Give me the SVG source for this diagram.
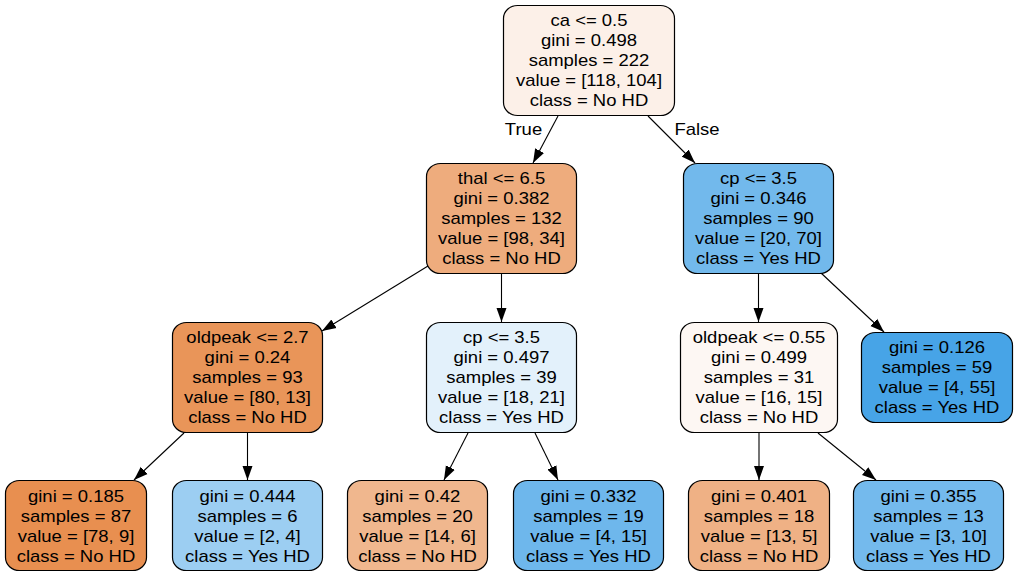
<svg xmlns="http://www.w3.org/2000/svg" width="1017" height="577" viewBox="0 0 1017 577">
<style>
.n rect{stroke:#000;stroke-width:1.2}
text{font-family:"Liberation Sans",Arial,sans-serif;font-size:15.8px;fill:#000;text-anchor:middle}
.e line{stroke:#000;stroke-width:1.1;marker-end:url(#ah)}
</style>
<defs>
<marker id="ah" markerUnits="userSpaceOnUse" markerWidth="14" markerHeight="11" refX="14" refY="5.5" orient="auto"><path d="M0,0.5 L14,5.5 L0,10.5 z" fill="#000"/></marker>
</defs>
<rect width="1017" height="577" fill="#fff"/>
<g id="edges" class="e">
<line x1="558" y1="116" x2="533" y2="163"/>
<line x1="648" y1="116" x2="695" y2="163"/>
<line x1="428" y1="266" x2="322" y2="331"/>
<line x1="501.5" y1="274" x2="501.5" y2="322"/>
<line x1="758.5" y1="274" x2="758.5" y2="322"/>
<line x1="821" y1="273" x2="884" y2="332"/>
<line x1="184" y1="433" x2="134" y2="480"/>
<line x1="247.5" y1="433" x2="247.5" y2="480"/>
<line x1="468" y1="433" x2="444" y2="480"/>
<line x1="535" y1="433" x2="558" y2="480"/>
<line x1="759" y1="433" x2="759" y2="480"/>
<line x1="818" y1="433" x2="876" y2="480"/>
<text transform="translate(523.5,135) scale(1.17,1)">True</text>
<text transform="translate(697,135) scale(1.17,1)">False</text>
</g>
<g id="root" class="n">
<rect x="503.5" y="5.5" width="171" height="110" rx="14" ry="13" fill="#fcf0e8"/>
<text transform="translate(589,25.5) scale(1.17,1)">ca &lt;= 0.5</text>
<text transform="translate(589,45.5) scale(1.17,1)">gini = 0.498</text>
<text transform="translate(589,65.5) scale(1.17,1)">samples = 222</text>
<text transform="translate(589,85.5) scale(1.17,1)">value = [118, 104]</text>
<text transform="translate(589,105.5) scale(1.17,1)">class = No HD</text>
</g>
<g id="thal" class="n">
<rect x="426.5" y="163.5" width="150" height="110" rx="14" ry="13" fill="#eeac7d"/>
<text transform="translate(501.5,183.5) scale(1.17,1)">thal &lt;= 6.5</text>
<text transform="translate(501.5,203.5) scale(1.17,1)">gini = 0.382</text>
<text transform="translate(501.5,223.5) scale(1.17,1)">samples = 132</text>
<text transform="translate(501.5,243.5) scale(1.17,1)">value = [98, 34]</text>
<text transform="translate(501.5,263.5) scale(1.17,1)">class = No HD</text>
</g>
<g id="cp_right" class="n">
<rect x="683.5" y="163.5" width="150" height="110" rx="14" ry="13" fill="#72b9ec"/>
<text transform="translate(758.5,183.5) scale(1.17,1)">cp &lt;= 3.5</text>
<text transform="translate(758.5,203.5) scale(1.17,1)">gini = 0.346</text>
<text transform="translate(758.5,223.5) scale(1.17,1)">samples = 90</text>
<text transform="translate(758.5,243.5) scale(1.17,1)">value = [20, 70]</text>
<text transform="translate(758.5,263.5) scale(1.17,1)">class = Yes HD</text>
</g>
<g id="oldpeak_left" class="n">
<rect x="172.5" y="322.5" width="150" height="110" rx="14" ry="13" fill="#e99559"/>
<text transform="translate(247.5,342.5) scale(1.17,1)">oldpeak &lt;= 2.7</text>
<text transform="translate(247.5,362.5) scale(1.17,1)">gini = 0.24</text>
<text transform="translate(247.5,382.5) scale(1.17,1)">samples = 93</text>
<text transform="translate(247.5,402.5) scale(1.17,1)">value = [80, 13]</text>
<text transform="translate(247.5,422.5) scale(1.17,1)">class = No HD</text>
</g>
<g id="cp_mid" class="n">
<rect x="426.5" y="322.5" width="150" height="110" rx="14" ry="13" fill="#e3f1fb"/>
<text transform="translate(501.5,342.5) scale(1.17,1)">cp &lt;= 3.5</text>
<text transform="translate(501.5,362.5) scale(1.17,1)">gini = 0.497</text>
<text transform="translate(501.5,382.5) scale(1.17,1)">samples = 39</text>
<text transform="translate(501.5,402.5) scale(1.17,1)">value = [18, 21]</text>
<text transform="translate(501.5,422.5) scale(1.17,1)">class = Yes HD</text>
</g>
<g id="oldpeak_right" class="n">
<rect x="680.5" y="322.5" width="157" height="110" rx="14" ry="13" fill="#fdf7f3"/>
<text transform="translate(759,342.5) scale(1.17,1)">oldpeak &lt;= 0.55</text>
<text transform="translate(759,362.5) scale(1.17,1)">gini = 0.499</text>
<text transform="translate(759,382.5) scale(1.17,1)">samples = 31</text>
<text transform="translate(759,402.5) scale(1.17,1)">value = [16, 15]</text>
<text transform="translate(759,422.5) scale(1.17,1)">class = No HD</text>
</g>
<g id="leaf_r" class="n">
<rect x="861.5" y="332.5" width="151" height="90" rx="14" ry="13" fill="#47a4e7"/>
<text transform="translate(937,353) scale(1.17,1)">gini = 0.126</text>
<text transform="translate(937,373) scale(1.17,1)">samples = 59</text>
<text transform="translate(937,393) scale(1.17,1)">value = [4, 55]</text>
<text transform="translate(937,413) scale(1.17,1)">class = Yes HD</text>
</g>
<g id="leaf1" class="n">
<rect x="5.5" y="480.5" width="141" height="90" rx="14" ry="13" fill="#e88f50"/>
<text transform="translate(76,501.5) scale(1.17,1)">gini = 0.185</text>
<text transform="translate(76,521.5) scale(1.17,1)">samples = 87</text>
<text transform="translate(76,541.5) scale(1.17,1)">value = [78, 9]</text>
<text transform="translate(76,561.5) scale(1.17,1)">class = No HD</text>
</g>
<g id="leaf2" class="n">
<rect x="172.5" y="480.5" width="150" height="90" rx="14" ry="13" fill="#9ccef2"/>
<text transform="translate(247.5,501.5) scale(1.17,1)">gini = 0.444</text>
<text transform="translate(247.5,521.5) scale(1.17,1)">samples = 6</text>
<text transform="translate(247.5,541.5) scale(1.17,1)">value = [2, 4]</text>
<text transform="translate(247.5,561.5) scale(1.17,1)">class = Yes HD</text>
</g>
<g id="leaf3" class="n">
<rect x="347.5" y="480.5" width="140" height="90" rx="14" ry="13" fill="#f0b78e"/>
<text transform="translate(417.5,501.5) scale(1.17,1)">gini = 0.42</text>
<text transform="translate(417.5,521.5) scale(1.17,1)">samples = 20</text>
<text transform="translate(417.5,541.5) scale(1.17,1)">value = [14, 6]</text>
<text transform="translate(417.5,561.5) scale(1.17,1)">class = No HD</text>
</g>
<g id="leaf4" class="n">
<rect x="513.5" y="480.5" width="150" height="90" rx="14" ry="13" fill="#6eb7ec"/>
<text transform="translate(588.5,501.5) scale(1.17,1)">gini = 0.332</text>
<text transform="translate(588.5,521.5) scale(1.17,1)">samples = 19</text>
<text transform="translate(588.5,541.5) scale(1.17,1)">value = [4, 15]</text>
<text transform="translate(588.5,561.5) scale(1.17,1)">class = Yes HD</text>
</g>
<g id="leaf5" class="n">
<rect x="688.5" y="480.5" width="141" height="90" rx="14" ry="13" fill="#efb185"/>
<text transform="translate(759,501.5) scale(1.17,1)">gini = 0.401</text>
<text transform="translate(759,521.5) scale(1.17,1)">samples = 18</text>
<text transform="translate(759,541.5) scale(1.17,1)">value = [13, 5]</text>
<text transform="translate(759,561.5) scale(1.17,1)">class = No HD</text>
</g>
<g id="leaf6" class="n">
<rect x="853.5" y="480.5" width="150" height="90" rx="14" ry="13" fill="#74baed"/>
<text transform="translate(928.5,501.5) scale(1.17,1)">gini = 0.355</text>
<text transform="translate(928.5,521.5) scale(1.17,1)">samples = 13</text>
<text transform="translate(928.5,541.5) scale(1.17,1)">value = [3, 10]</text>
<text transform="translate(928.5,561.5) scale(1.17,1)">class = Yes HD</text>
</g>
</svg>
